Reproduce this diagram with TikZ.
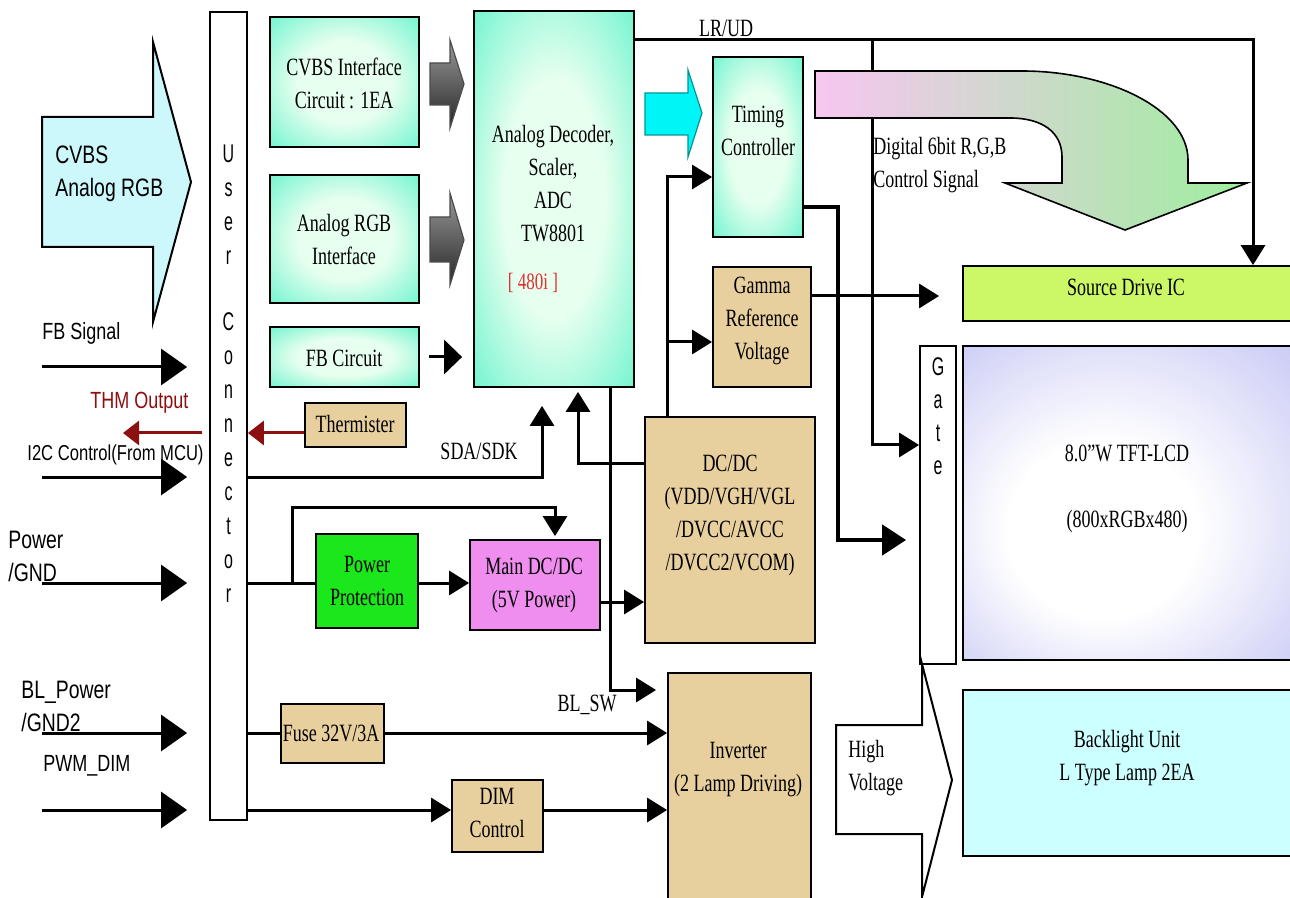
\documentclass[tikz,border=0pt]{standalone}
\usepackage{fontspec}
\usepackage{graphicx}
\setmainfont{Liberation Serif}
\newfontfamily\arialf{Liberation Sans}
\usetikzlibrary{arrows.meta,fit}
\definecolor{aquaD}{HTML}{42F0C4}
\definecolor{aquaL}{HTML}{E6FFEE}
\definecolor{tanc}{HTML}{E8CF9E}
\definecolor{thmred}{HTML}{8C1010}
\definecolor{cyanA}{HTML}{00F6F6}
\definecolor{cvbsA}{HTML}{CCF8FC}
\definecolor{srcC}{HTML}{CCF766}
\definecolor{lav}{HTML}{B6B6F2}
\definecolor{bluC}{HTML}{CCFFFF}
\definecolor{ppG}{HTML}{1AE81A}
\definecolor{mainV}{HTML}{F08EF0}
\definecolor{pinkA}{HTML}{F8C6F2}
\definecolor{greenA}{HTML}{9EEE9E}
\definecolor{redT}{HTML}{E03030}
\pgfdeclareradialshading{aquarad}{\pgfpoint{0bp}{0bp}}{color(0bp)=(aquaL); color(16bp)=(aquaL); color(44bp)=(aquaD); color(50bp)=(aquaD)}
\pgfdeclareradialshading{lavrad}{\pgfpoint{-6bp}{-6bp}}{color(0bp)=(white); color(14bp)=(white); color(46bp)=(lav); color(50bp)=(lav)}
\newcommand\vsc[1]{\scalebox{1}[1.38]{#1}}
\newcommand\vsa[1]{\scalebox{1}[1.3]{#1}}
\newcommand\vsl[1]{\scalebox{1}[1.6]{#1}}
\newcommand\tmsf{\fontsize{9pt}{16.5pt}\selectfont}
\newcommand\arsf{\arialf\fontsize{9pt}{16.5pt}\selectfont}
\newcommand\arbf{\arialf\fontsize{9.7pt}{16.5pt}\selectfont}
\newcommand\arlf{\arialf\fontsize{8pt}{17pt}\selectfont}
\newcommand\argf{\arialf\fontsize{8pt}{16.5pt}\selectfont}
\tikzset{
  bx/.style={draw=black, line width=0.9pt, inner sep=0pt},
  aquabox/.style={bx, shade, shading=aquarad},
  tanbox/.style={bx, fill=tanc},
  wire/.style={line width=1.5pt},
  arr/.style={wire, -{Triangle[length=10pt,width=12pt]}},
  fbarr/.style={wire, -{Triangle[length=9pt,width=17pt]}},
  inarr/.style={wire, -{Triangle[length=13pt,width=18pt]}},
  fatarr/.style={line width=2.3pt, -{Triangle[length=12pt,width=15pt]}},
  redarr/.style={line width=1.5pt, draw=thmred, -{Triangle[length=8pt,width=12pt]}},
  tx/.style={inner sep=0pt, align=center, font=\tmsf},
  lab/.style={inner sep=0pt, align=left, anchor=west, font=\arsf},
  letters/.style={inner sep=0pt, align=center, font=\arlf},
  blockarrow/.style={draw=black, line width=1pt, line join=miter},
  grayar/.style={draw=black!70, line width=0.6pt, top color=black!40, bottom color=black!85},
}
\begin{document}
\begin{tikzpicture}[x=0.5pt,y=-0.5pt]
\useasboundingbox (0,0) rectangle (1290,898);
\clip (0,0) rectangle (1290,898);
\fill[white] (0,0) rectangle (1290,898);

% ---------- input side ----------
\path[blockarrow, fill=cvbsA] (42,117) -- (153,117) -- (153,42) -- (191,182) -- (153,322) -- (153,247) -- (42,247) -- cycle;
\node[lab, font=\arbf] (cvbsT) at (55,174) {\vsa{CVBS}\\\vsa{Analog RGB}};
\node[lab] (fbT) at (42,333) {\vsa{FB Signal}};
\node[lab, text=thmred] (thmT) at (90,403) {\vsa{THM Output}};
\node[lab, font=\arialf\fontsize{8.3pt}{16.5pt}\selectfont] (i2cT) at (27,455) {\vsa{I2C Control(From MCU)}};
\node[lab, font=\arbf] (pwrT) at (8,556) {\vsa{Power}\\\vsa{/GND}};
\node[lab, font=\arbf] (blpT) at (21,706) {\vsa{BL\_Power}\\\vsa{/GND2}};
\node[lab] (pwmT) at (43,766) {\vsa{PWM\_DIM}};

% ---------- user connector ----------
\node[bx, fill=white, fit={(210,12) (247,820)}] (ucon) {};
\node[letters] (uconT1) at (228.5,205) {\vsl{U}\\\vsl{s}\\\vsl{e}\\\vsl{r}};
\node[letters] (uconT2) at (228.5,458) {\vsl{C}\\\vsl{o}\\\vsl{n}\\\vsl{n}\\\vsl{e}\\\vsl{c}\\\vsl{t}\\\vsl{o}\\\vsl{r}};

\coordinate (inFB) at (42,367);
\coordinate (inI2C) at (42,477);
\coordinate (inPWR) at (42,583);
\coordinate (inBL) at (42,733);
\coordinate (inPWM) at (42,810);
\coordinate (thmS) at (202,433);
\coordinate (thmE) at (123,433);
\foreach \c in {inFB,inI2C,inPWR,inBL,inPWM}
  \draw[inarr, shorten >=11pt] (\c) -- (ucon.west |- \c);
\draw[redarr] (thmS) -- (thmE);

% ---------- boxes ----------
\node[aquabox, fit={(270,17) (419,147)}] (cvbsif) {};
\node[tx] (cvbsifT) at (344,83) {\vsc{CVBS Interface}\\\vsc{Circuit : 1EA}};
\node[aquabox, fit={(270,175) (419,303)}] (rgbif) {};
\node[tx] (rgbifT) at (344,240) {\vsc{Analog RGB}\\\vsc{Interface}};
\node[aquabox, fit={(270,327) (419,387)}] (fbc) {};
\node[tx] (fbcT) at (344,358) {\vsc{FB Circuit}};
\node[tanbox, fit={(305,403) (406,447)}] (therm) {};
\node[tx] (thermT) at (355,424) {\vsc{Thermister}};

\path[grayar] (430,63) -- (450,63) -- (450,40) -- (464,84) -- (450,128) -- (450,105) -- (430,105) -- cycle;
\path[grayar] (430,217) -- (450,217) -- (450,193) -- (464,240) -- (450,285) -- (450,262) -- (430,262) -- cycle;

\node[aquabox, fit={(474,11) (634,387)}] (adec) {};
\node[tx] (adecT) at (553,184) {\vsc{Analog Decoder,}\\\vsc{Scaler,}\\\vsc{ADC}\\\vsc{TW8801}};
\node[tx, text=redT, font=\fontsize{8.5pt}{10pt}\selectfont] (resT) at (533,283) {\vsc{[ 480i ]}};

\path[draw=cyanA!60!black, line width=0.6pt, fill=cyanA] (645,93) -- (688,93) -- (688,70) -- (702,113) -- (688,157) -- (688,135) -- (645,135) -- cycle;

\node[aquabox, fit={(713,57) (803,237)}] (tcon) {};
\node[tx] (tconT) at (758,131) {\vsc{Timing}\\\vsc{Controller}};
\node[tanbox, fit={(713,267) (811,387)}] (gamma) {};
\node[tx] (gammaT) at (762,321) {\vsc{Gamma}\\\vsc{Reference}\\\vsc{Voltage}};
\node[tanbox, fit={(645,417) (815,643)}] (dcdc) {};
\node[tx] (dcdcT) at (730,515) {\vsc{DC/DC}\\\vsc{(VDD/VGH/VGL}\\\vsc{/DVCC/AVCC}\\\vsc{/DVCC2/VCOM)}};
\node[bx, fill=ppG, fit={(316,534) (418,628)}] (pprot) {};
\node[tx] (pprotT) at (367,581) {\vsc{Power}\\\vsc{Protection}};
\node[bx, fill=mainV, fit={(470,540) (600,630)}] (maindc) {};
\node[tx] (maindcT) at (534,585) {\vsc{Main DC/DC}\\\vsc{(5V Power)}};
\node[tanbox, fit={(281,704) (384,763)}] (fuse) {};
\node[tx] (fuseT) at (331,733) {\vsc{Fuse 32V/3A}};
\node[tanbox, fit={(452,780) (543,852)}] (dim) {};
\node[tx] (dimT) at (497,813) {\vsc{DIM}\\\vsc{Control}};
\node[tanbox, fit={(668,673) (811,905)}] (inv) {};
\node[tx] (invT) at (738,770) {\vsc{Inverter}\\\vsc{(2 Lamp Driving)}};

\node[bx, fill=srcC, fit={(963,266) (1300,321)}] (srcic) {};
\node[tx] (srcicT) at (1126,287) {\vsc{Source Drive IC}};
\node[bx, fill=white, fit={(920,346) (956,664)}] (gate) {};
\node[letters, font=\argf] (gateT) at (938,416) {\vsl{G}\\\vsl{a}\\\vsl{t}\\\vsl{e}};
\node[bx, shade, shading=lavrad, fit={(963,346) (1300,660)}] (lcd) {};
\node[tx] (lcdT) at (1127,489) {\vsc{8.0”W TFT-LCD}\\[16.5pt]\vsc{(800xRGBx480)}};
\node[bx, fill=bluC, fit={(963,690) (1300,856)}] (blu) {};
\node[tx] (bluT) at (1127,758) {\vsc{Backlight Unit}\\\vsc{L Type Lamp 2EA}};

\path[blockarrow, fill=white] (836,725) -- (922,725) -- (922,664) -- (952,780) -- (922,897) -- (922,834) -- (836,834) -- cycle;
\node[tx, anchor=west, align=left] (hvT) at (848,768) {\vsc{High}\\\vsc{Voltage}};

% ---------- connectors ----------
\coordinate (jLR) at (872,40);
\coordinate (cLR) at (1253,40);
\draw[arr] (adec.east |- jLR) -- (cLR) -- (srcic.north -| cLR);
\draw[arr] (jLR) |- (gate.west |- 0,445);
\node[tx] (lrudT) at (726,28) {\vsc{LR/UD}};

\draw[arr, shorten >=11.5pt] (gamma.east |- 0,296) -- (srcic.west |- 0,296);
\draw[fatarr, shorten >=6.5pt] (tcon.east |- 0,207) -- (838,207) -- (838,540) -- (gate.west |- 0,540);

\coordinate (jT) at (667,177);
\coordinate (jG) at (667,342);
\draw[arr] (dcdc.north -| jT) -- (jT) -- (tcon.west |- jT);
\draw[arr] (jG) -- (gamma.west |- jG);

\draw[arr, shorten >=9pt] (ucon.east |- 0,477) -| (adec.south -| 542,0);
\node[tx] (sdaT) at (479,451) {\vsc{SDA/SDK}};
\draw[arr, shorten >=2pt] (dcdc.west |- 0,463) -| (adec.south -| 578,0);
\draw[arr, shorten >=5.5pt] (adec.south -| 610,0) |- (inv.west |- 0,690);
\node[tx] (blswT) at (587,705) {\vsc{BL\_SW}};

\draw[fbarr, shorten <=4.5pt, shorten >=5.5pt] (fbc.east |- 0,357) -- (adec.west |- 0,357);
\draw[redarr] (therm.west |- 0,433) -- (ucon.east |- 0,433);

\coordinate (jP) at (292,583);
\draw[wire] (ucon.east |- jP) -- (pprot.west |- jP);
\draw[arr, shorten >=1.5pt] (jP) |- (555,507) -- (maindc.north -| 555,0);
\draw[arr] (pprot.east |- jP) -- (maindc.west |- jP);
\draw[arr] (maindc.east |- 0,602) -- (dcdc.west |- 0,602);

\draw[wire] (ucon.east |- 0,733) -- (fuse.west |- 0,733);
\draw[arr] (fuse.east |- 0,733) -- (inv.west |- 0,733);
\draw[arr] (ucon.east |- 0,810) -- (dim.west |- 0,810);
\draw[arr] (dim.east |- 0,810) -- (inv.west |- 0,810);

% ---------- digital RGB curved arrow ----------
\path[draw=black, line width=0.8pt, left color=pinkA, right color=greenA] (815,71) -- (1022,71) .. controls (1110,71) and (1188,110) .. (1188,160) -- (1188,183) -- (1247,183) -- (1125,230) -- (1005,183) -- (1062,183) -- (1062,157) .. controls (1062,132) and (1042,118) .. (1010,118) -- (815,118) -- cycle;
\node[tx, anchor=west, align=left] (digT) at (873,165) {\vsc{Digital 6bit R,G,B}\\\vsc{Control Signal}};
\end{tikzpicture}
\end{document}
